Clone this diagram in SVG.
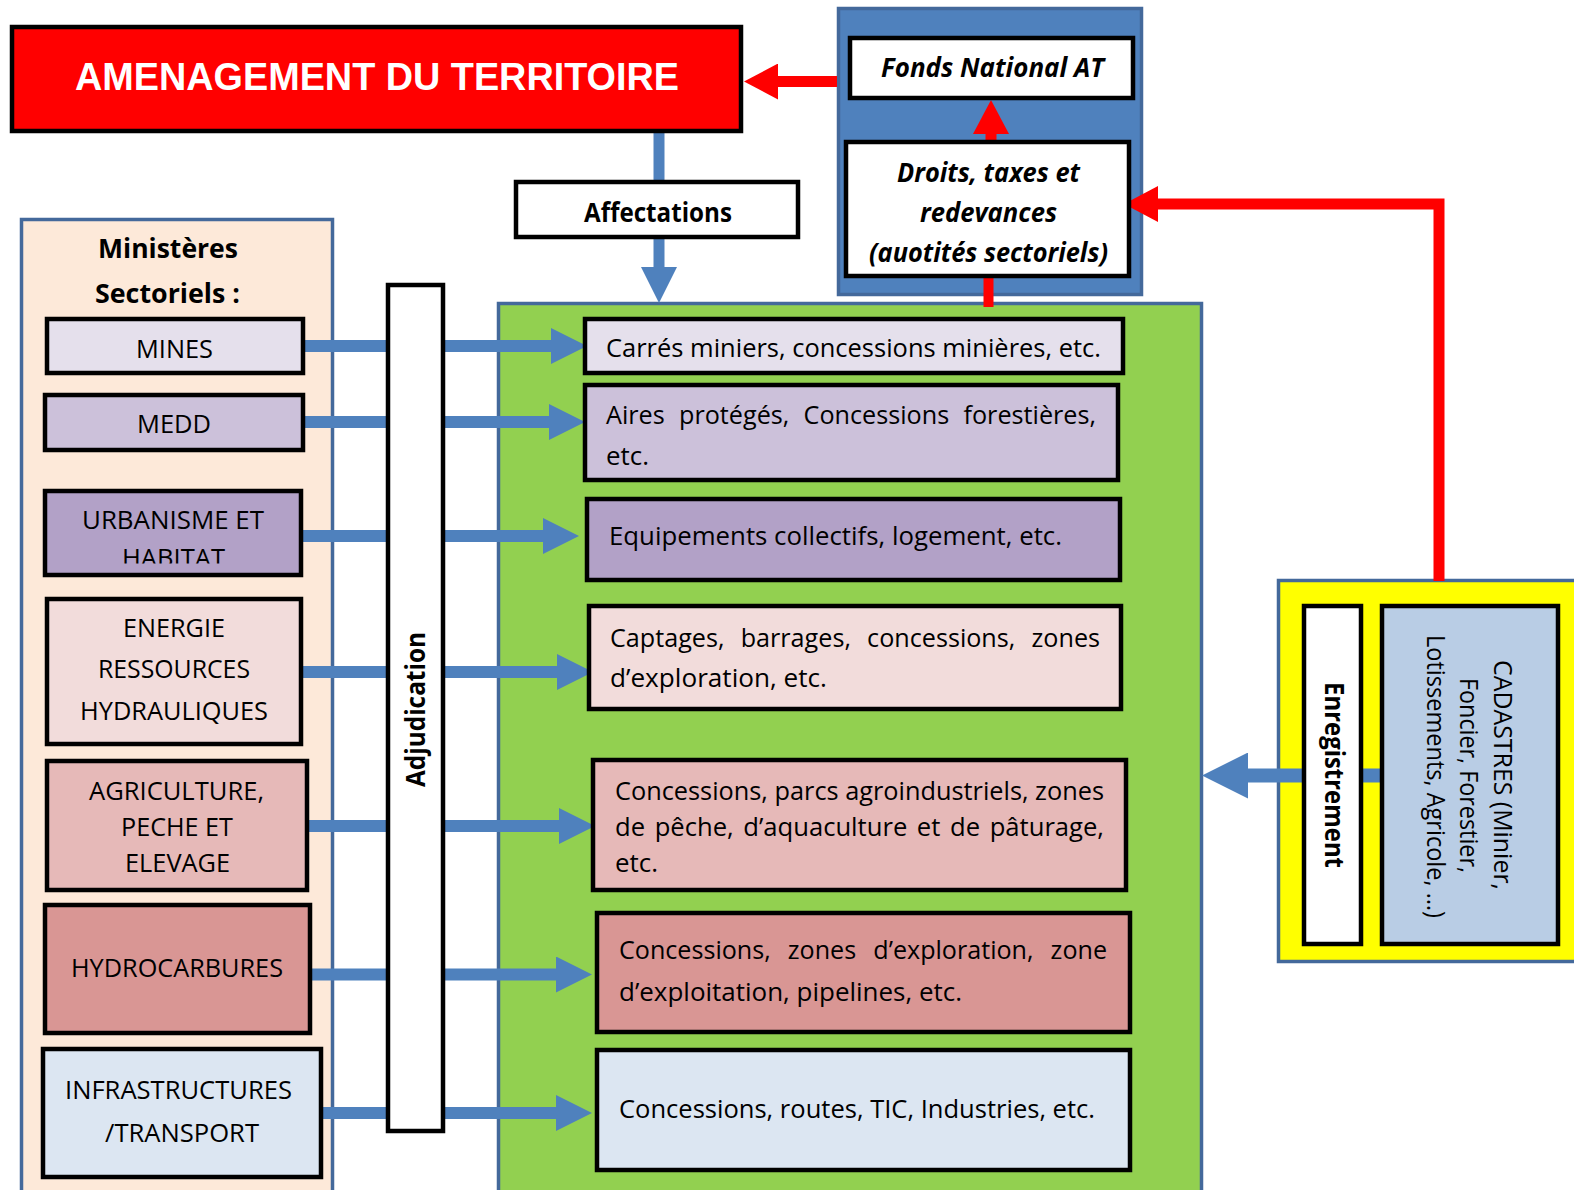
<svg xmlns="http://www.w3.org/2000/svg" width="1574" height="1190" viewBox="0 0 1574 1190">
<style>
.box{stroke:#000;stroke-width:4.5}
.panel{stroke:#44699B;stroke-width:3.5}
.t{font-family:"Open Sans","Noto Sans","DejaVu Sans",sans-serif;font-size:26px;fill:#000}
.b{font-weight:bold}
.i{font-style:italic}
.c{text-anchor:middle}
.red{stroke:#FF0000;fill:none}
.blue{stroke:#4F81BD;fill:none}
</style>
<defs>
<marker id="bh" markerUnits="userSpaceOnUse" markerWidth="36" markerHeight="36" viewBox="0 0 36 36" refX="6" refY="18" orient="auto"><path d="M0,0 L36,18 L0,36 z" fill="#4F81BD"/></marker>
<marker id="bhL" markerUnits="userSpaceOnUse" markerWidth="46" markerHeight="46" viewBox="0 0 46 46" refX="8" refY="23" orient="auto"><path d="M0,0 L46,23 L0,46 z" fill="#4F81BD"/></marker>
<marker id="rh" markerUnits="userSpaceOnUse" markerWidth="34" markerHeight="36" viewBox="0 0 34 36" refX="6" refY="18" orient="auto"><path d="M0,0 L34,18 L0,36 z" fill="#FF0000"/></marker>
<clipPath id="clipUrb"><rect x="45" y="489" width="258" height="74.5"/></clipPath>
</defs>
<rect x="0" y="0" width="1574" height="1190" fill="#FFFFFF"/>

<!-- panels -->
<g id="ministeres-panel">
<rect class="panel" x="21.5" y="219.5" width="311" height="985" fill="#FDE9D9"/>
<text class="t b c" x="168" y="258" textLength="140" lengthAdjust="spacingAndGlyphs">Ministères</text>
<text class="t b c" x="167.5" y="303" textLength="145" lengthAdjust="spacingAndGlyphs">Sectoriels :</text>
</g>
<g id="green-panel">
<rect class="panel" x="498.5" y="303.5" width="703" height="900" fill="#92D050"/>
</g>
<g id="yellow-panel">
<rect class="panel" x="1278.5" y="580.5" width="310" height="381" fill="#FFFF00"/>
</g>
<g id="fonds-panel">
<rect class="panel" x="838.5" y="8.5" width="303" height="286" fill="#4F81BD" stroke="#385D8A"/>
</g>

<!-- connectors -->
<g id="connectors">
<line class="red" x1="837" y1="81.5" x2="772" y2="81.5" stroke-width="11" marker-end="url(#rh)"/>
<line class="red" x1="991" y1="141" x2="991" y2="128" stroke-width="11" marker-end="url(#rh)"/>
<polyline class="red" points="1439,581 1439,204 1152,204" stroke-width="11" stroke-linejoin="miter" marker-end="url(#rh)"/>
<line class="red" x1="988.5" y1="276" x2="988.5" y2="307" stroke-width="10"/>
<line class="blue" x1="659" y1="131" x2="659" y2="182" stroke-width="11"/>
<line class="blue" x1="659" y1="237" x2="659" y2="273" stroke-width="11" marker-end="url(#bh)"/>
<line class="blue" x1="303" y1="346" x2="557" y2="346" stroke-width="12" marker-end="url(#bh)"/>
<line class="blue" x1="303" y1="422" x2="555" y2="422" stroke-width="12" marker-end="url(#bh)"/>
<line class="blue" x1="301" y1="536" x2="549" y2="536" stroke-width="12" marker-end="url(#bh)"/>
<line class="blue" x1="301" y1="672" x2="563" y2="672" stroke-width="12" marker-end="url(#bh)"/>
<line class="blue" x1="307" y1="826" x2="565" y2="826" stroke-width="12" marker-end="url(#bh)"/>
<line class="blue" x1="310" y1="974.5" x2="562" y2="974.5" stroke-width="12" marker-end="url(#bh)"/>
<line class="blue" x1="321" y1="1113" x2="562" y2="1113" stroke-width="12" marker-end="url(#bh)"/>
<line class="blue" x1="1382" y1="775.5" x2="1240" y2="775.5" stroke-width="14" marker-end="url(#bhL)"/>
</g>

<!-- nodes -->
<g id="amenagement">
<rect class="box" x="12" y="27" width="729" height="104" fill="#FF0000"/>
<text x="377" y="90" text-anchor="middle" font-family="'Liberation Sans',Arial,sans-serif" font-weight="bold" font-size="38" fill="#FFFFFF" textLength="604" lengthAdjust="spacingAndGlyphs">AMENAGEMENT DU TERRITOIRE</text>
</g>
<g id="fonds-national">
<rect class="box" x="850" y="38" width="283" height="60" fill="#FFFFFF"/>
<text class="t b i c" x="992.5" y="77" textLength="223" lengthAdjust="spacingAndGlyphs">Fonds National AT</text>
</g>
<g id="droits">
<rect class="box" x="846" y="142" width="283" height="134" fill="#FFFFFF"/>
<text class="t b i c" x="988.5" y="182" textLength="183" lengthAdjust="spacingAndGlyphs">Droits, taxes et</text>
<text class="t b i c" x="988.5" y="222" textLength="137" lengthAdjust="spacingAndGlyphs">redevances</text>
<text class="t b i c" x="988.5" y="262" textLength="239" lengthAdjust="spacingAndGlyphs">(auotités sectoriels)</text>
</g>
<g id="affectations">
<rect class="box" x="516" y="182" width="282" height="55" fill="#FFFFFF"/>
<text class="t b c" x="658" y="222" textLength="148" lengthAdjust="spacingAndGlyphs">Affectations</text>
</g>

<g id="mines">
<rect class="box" x="47" y="319" width="256" height="54" fill="#E5E0EC"/>
<text class="t c" x="174.5" y="358" textLength="77" lengthAdjust="spacingAndGlyphs">MINES</text>
</g>
<g id="medd">
<rect class="box" x="45" y="395" width="258" height="55" fill="#CCC1DA"/>
<text class="t c" x="174" y="433" textLength="74" lengthAdjust="spacingAndGlyphs">MEDD</text>
</g>
<g id="urbanisme">
<rect class="box" x="45" y="491" width="256" height="84" fill="#B2A1C7"/>
<g clip-path="url(#clipUrb)">
<text class="t c" x="173" y="529" textLength="182" lengthAdjust="spacingAndGlyphs">URBANISME ET</text>
<text class="t c" x="173.5" y="567" textLength="103" lengthAdjust="spacingAndGlyphs">HABITAT</text>
</g>
</g>
<g id="energie">
<rect class="box" x="47" y="599" width="254" height="145" fill="#F2DCDB"/>
<text class="t c" x="174" y="637" textLength="102" lengthAdjust="spacingAndGlyphs">ENERGIE</text>
<text class="t c" x="174" y="678" textLength="152" lengthAdjust="spacingAndGlyphs">RESSOURCES</text>
<text class="t c" x="174" y="720" textLength="188" lengthAdjust="spacingAndGlyphs">HYDRAULIQUES</text>
</g>
<g id="agriculture">
<rect class="box" x="47" y="761" width="260" height="129" fill="#E6B9B8"/>
<text class="t c" x="176.5" y="800" textLength="175" lengthAdjust="spacingAndGlyphs">AGRICULTURE,</text>
<text class="t c" x="177" y="836" textLength="112" lengthAdjust="spacingAndGlyphs">PECHE ET</text>
<text class="t c" x="177.5" y="872" textLength="105" lengthAdjust="spacingAndGlyphs">ELEVAGE</text>
</g>
<g id="hydrocarbures">
<rect class="box" x="45" y="905" width="265" height="128" fill="#D99694"/>
<text class="t c" x="177" y="977" textLength="212" lengthAdjust="spacingAndGlyphs">HYDROCARBURES</text>
</g>
<g id="infrastructures">
<rect class="box" x="43" y="1049" width="278" height="128" fill="#DCE6F2"/>
<text class="t c" x="178.5" y="1099" textLength="227" lengthAdjust="spacingAndGlyphs">INFRASTRUCTURES</text>
<text class="t c" x="182" y="1142" textLength="154" lengthAdjust="spacingAndGlyphs">/TRANSPORT</text>
</g>

<g id="adjudication">
<rect class="box" x="388" y="285" width="55" height="846" fill="#FFFFFF"/>
<text class="t b c" transform="translate(425,709.5) rotate(-90)" x="0" y="0" textLength="155" lengthAdjust="spacingAndGlyphs">Adjudication</text>
</g>

<g id="carres">
<rect class="box" x="585" y="319" width="538" height="54" fill="#E5E0EC"/>
<text class="t" x="606" y="357" textLength="495" lengthAdjust="spacingAndGlyphs">Carrés miniers, concessions minières, etc.</text>
</g>
<g id="aires">
<rect class="box" x="585" y="385" width="533" height="95" fill="#CCC1DA"/>
<text class="t" x="606" y="424" word-spacing="8" textLength="490" lengthAdjust="spacingAndGlyphs">Aires protégés, Concessions forestières,</text>
<text class="t" x="606" y="465" textLength="43" lengthAdjust="spacingAndGlyphs">etc.</text>
</g>
<g id="equipements">
<rect class="box" x="587" y="499" width="533" height="81" fill="#B2A1C7"/>
<text class="t" x="609" y="545" textLength="453" lengthAdjust="spacingAndGlyphs">Equipements collectifs, logement, etc.</text>
</g>
<g id="captages">
<rect class="box" x="589" y="606" width="532" height="103" fill="#F2DCDB"/>
<text class="t" x="610" y="647" word-spacing="10" textLength="490" lengthAdjust="spacingAndGlyphs">Captages, barrages, concessions, zones</text>
<text class="t" x="610" y="687" textLength="217" lengthAdjust="spacingAndGlyphs">d’exploration, etc.</text>
</g>
<g id="parcs">
<rect class="box" x="593" y="760" width="533" height="130" fill="#E6B9B8"/>
<text class="t" x="615" y="800" textLength="489" lengthAdjust="spacingAndGlyphs">Concessions, parcs agroindustriels, zones</text>
<text class="t" x="615" y="836" word-spacing="3" textLength="489" lengthAdjust="spacingAndGlyphs">de pêche, d’aquaculture et de pâturage,</text>
<text class="t" x="615" y="872" textLength="43" lengthAdjust="spacingAndGlyphs">etc.</text>
</g>
<g id="zones">
<rect class="box" x="597" y="913" width="533" height="119" fill="#D99694"/>
<text class="t" x="619" y="959" word-spacing="11" textLength="488" lengthAdjust="spacingAndGlyphs">Concessions, zones d’exploration, zone</text>
<text class="t" x="619" y="1001" textLength="343" lengthAdjust="spacingAndGlyphs">d’exploitation, pipelines, etc.</text>
</g>
<g id="routes">
<rect class="box" x="597" y="1050" width="533" height="120" fill="#DCE6F2"/>
<text class="t" x="619" y="1118" textLength="476" lengthAdjust="spacingAndGlyphs">Concessions, routes, TIC, Industries, etc.</text>
</g>

<g id="enregistrement">
<rect class="box" x="1304" y="606" width="57" height="338" fill="#FFFFFF"/>
<text class="t b c" transform="translate(1325,775) rotate(90)" x="0" y="0" textLength="186" lengthAdjust="spacingAndGlyphs">Enregistrement</text>
</g>
<g id="cadastres">
<rect class="box" x="1382" y="606" width="176" height="338" fill="#B9CDE5"/>
<text class="t c" transform="translate(1494,775) rotate(90)" x="0" y="0" textLength="230" lengthAdjust="spacingAndGlyphs">CADASTRES (Minier,</text>
<text class="t c" transform="translate(1460,775.5) rotate(90)" x="0" y="0" textLength="195" lengthAdjust="spacingAndGlyphs">Foncier, Forestier,</text>
<text class="t c" transform="translate(1427,776.5) rotate(90)" x="0" y="0" textLength="283" lengthAdjust="spacingAndGlyphs">Lotissements, Agricole, …)</text>
</g>
</svg>
